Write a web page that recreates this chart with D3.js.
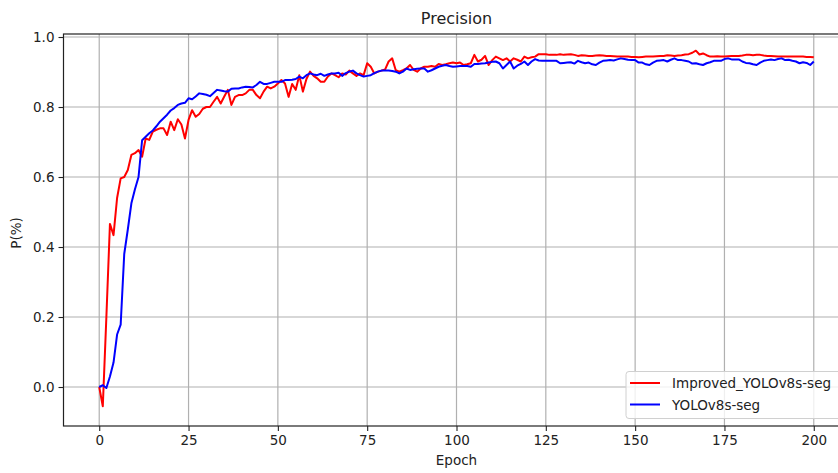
<!DOCTYPE html>
<html>
<head>
<meta charset="utf-8">
<script src="https://cdn.jsdelivr.net/npm/d3@7"></script>
<style>
  body { margin: 0; background: #fff; }
  text { font-family: "DejaVu Sans", sans-serif; fill: #222; }
</style>
</head>
<body>
<svg id="chart"></svg>
<script>
// precision per epoch
const improved = [
  0.0, -0.055, 0.2, 0.466, 0.434, 0.54, 0.596, 0.60, 0.62, 0.663,
  0.668, 0.677, 0.658, 0.71, 0.706, 0.73, 0.735, 0.739, 0.739, 0.72,
  0.758, 0.734, 0.765, 0.75, 0.71, 0.763, 0.791, 0.772, 0.78, 0.795,
  0.80, 0.80, 0.815, 0.829, 0.81, 0.83, 0.849, 0.806, 0.829, 0.834,
  0.834, 0.839, 0.849, 0.849, 0.834, 0.825, 0.844, 0.858, 0.853, 0.858,
  0.867, 0.877, 0.867, 0.829, 0.866, 0.849, 0.891, 0.844, 0.88, 0.901,
  0.889, 0.882, 0.872, 0.872, 0.887, 0.896, 0.891, 0.885, 0.896, 0.893,
  0.904, 0.896, 0.889, 0.896, 0.891, 0.925, 0.915, 0.896, 0.901, 0.904,
  0.907, 0.93, 0.939, 0.905, 0.901, 0.905, 0.91, 0.92, 0.906, 0.901,
  0.91, 0.915, 0.915, 0.917, 0.915, 0.923, 0.92, 0.922, 0.925, 0.927,
  0.925, 0.927, 0.92, 0.922, 0.925, 0.949, 0.93, 0.935, 0.946, 0.92,
  0.934, 0.944, 0.939, 0.934, 0.939, 0.93, 0.939, 0.935, 0.93, 0.944,
  0.939, 0.942, 0.944, 0.951, 0.951, 0.951, 0.949, 0.949, 0.949, 0.951,
  0.949, 0.95, 0.951, 0.949, 0.946, 0.948, 0.947, 0.946, 0.946, 0.947,
  0.948, 0.947, 0.946, 0.946, 0.945, 0.944, 0.944, 0.944, 0.944, 0.943,
  0.943, 0.942, 0.943, 0.944, 0.944, 0.944, 0.945, 0.946, 0.946, 0.948,
  0.947, 0.946, 0.947, 0.948, 0.95, 0.951, 0.955, 0.961, 0.95, 0.953,
  0.948, 0.944, 0.944, 0.945, 0.944, 0.944, 0.945, 0.946, 0.946, 0.946,
  0.947, 0.949, 0.949, 0.948, 0.949, 0.949, 0.947, 0.946, 0.946, 0.945,
  0.944, 0.944, 0.944, 0.944, 0.944, 0.944, 0.944, 0.944, 0.943, 0.943,
  0.942
];

const baseline = [
  0.0, 0.005, -0.003, 0.03, 0.07, 0.15, 0.178, 0.38, 0.45, 0.525,
  0.565, 0.60, 0.705, 0.715, 0.725, 0.733, 0.745, 0.758, 0.768, 0.778,
  0.79, 0.797, 0.806, 0.81, 0.812, 0.825, 0.822, 0.83, 0.839, 0.837,
  0.835, 0.831, 0.84, 0.849, 0.847, 0.845, 0.844, 0.852, 0.853, 0.853,
  0.856, 0.858, 0.857, 0.856, 0.863, 0.872, 0.866, 0.866, 0.869, 0.872,
  0.872, 0.872, 0.877, 0.877, 0.878, 0.88, 0.887, 0.882, 0.891, 0.896,
  0.893, 0.891, 0.895, 0.889, 0.893, 0.896, 0.896, 0.898, 0.889, 0.897,
  0.901, 0.904, 0.896, 0.891, 0.887, 0.889, 0.891, 0.897, 0.901, 0.904,
  0.904, 0.904, 0.903, 0.901, 0.896, 0.901, 0.91, 0.906, 0.908, 0.909,
  0.91, 0.91, 0.901, 0.905, 0.91, 0.915, 0.918, 0.92, 0.917, 0.915,
  0.916, 0.917, 0.917, 0.917, 0.915, 0.923, 0.923, 0.924, 0.925, 0.927,
  0.929, 0.93, 0.925, 0.91, 0.92, 0.93, 0.91, 0.918, 0.923, 0.93,
  0.92, 0.93, 0.937, 0.933, 0.932, 0.932, 0.932, 0.932, 0.932, 0.925,
  0.926, 0.927, 0.928, 0.924, 0.932, 0.928, 0.925, 0.927, 0.922, 0.92,
  0.927, 0.932, 0.933, 0.934, 0.933, 0.936, 0.939, 0.937, 0.935, 0.934,
  0.934, 0.927, 0.927, 0.922, 0.92, 0.927, 0.932, 0.933, 0.934, 0.93,
  0.935, 0.939, 0.934, 0.934, 0.932, 0.93, 0.924, 0.925, 0.922, 0.92,
  0.925, 0.928, 0.932, 0.932, 0.932, 0.937, 0.939, 0.936, 0.936, 0.936,
  0.93, 0.926, 0.925, 0.922, 0.92, 0.927, 0.932, 0.934, 0.936, 0.934,
  0.937, 0.939, 0.934, 0.935, 0.932, 0.93, 0.925, 0.928, 0.926, 0.92,
  0.93
];

const seriesNames = ["Improved_YOLOv8s-seg", "YOLOv8s-seg"];
const seriesColors = ["#ff0000", "#0000ff"];
const xTicks = [0, 25, 50, 75, 100, 125, 150, 175, 200];
const yTicks = [0.0, 0.2, 0.4, 0.6, 0.8, 1.0];

const width = 838, height = 473;
// plot box (right edge is cut off by the picture border, as in the original)
const boxL = 63.5, boxR = 849.5, boxT = 34, boxB = 426;

const svg = d3.select("#chart").attr("width", width).attr("height", height);

const x = d3.scaleLinear().domain([-10, 210]).range([boxL, boxR]);
const y = d3.scaleLinear().domain([-0.1114, 1.0086]).range([boxB, boxT]);

// grid
const grid = svg.append("g").attr("stroke", "#b0b0b0").attr("stroke-width", 1.2);
grid.selectAll(".gx").data(xTicks).join("line")
  .attr("x1", d => x(d)).attr("x2", d => x(d))
  .attr("y1", boxT).attr("y2", boxB);
grid.selectAll(".gy").data(yTicks).join("line")
  .attr("x1", boxL).attr("x2", boxR)
  .attr("y1", d => y(d)).attr("y2", d => y(d));

// lines
const line = d3.line().x((d, i) => x(i)).y(d => y(d));
const allSeries = [improved, baseline];
svg.append("g").selectAll("path")
  .data(allSeries)
  .join("path")
  .attr("fill", "none")
  .attr("stroke", (d, i) => seriesColors[i])
  .attr("stroke-width", 2)
  .attr("stroke-linejoin", "round")
  .attr("d", line);

// axes
const xAxis = svg.append("g").attr("transform", `translate(0,${boxB})`)
  .call(d3.axisBottom(x).tickValues(xTicks).tickSize(5).tickPadding(4).tickSizeOuter(0));
const yAxis = svg.append("g").attr("transform", `translate(${boxL},0)`)
  .call(d3.axisLeft(y).tickValues(yTicks).tickFormat(d3.format(".1f")).tickSize(5).tickPadding(4).tickSizeOuter(0));
[xAxis, yAxis].forEach(a => {
  a.select(".domain").remove();
  a.selectAll("line").attr("stroke", "#222").attr("stroke-width", 1.1);
  a.selectAll("text").attr("font-size", 13.5).attr("fill", "#222")
    .style("font-family", "'DejaVu Sans', sans-serif");
});

// spines
svg.append("rect")
  .attr("x", boxL).attr("y", boxT)
  .attr("width", boxR - boxL).attr("height", boxB - boxT)
  .attr("fill", "none").attr("stroke", "#222").attr("stroke-width", 1.2);

// title and labels
svg.append("text").attr("x", (boxL + boxR) / 2).attr("y", 24)
  .attr("text-anchor", "middle").attr("font-size", 16).text("Precision");
svg.append("text").attr("x", (boxL + boxR) / 2).attr("y", 465)
  .attr("text-anchor", "middle").attr("font-size", 13.5).text("Epoch");
svg.append("text").attr("transform", "translate(21,233) rotate(-90)")
  .attr("text-anchor", "middle").attr("font-size", 13.5).text("P(%)");

// legend
const lg = svg.append("g").attr("transform", "translate(626,371.5)");
lg.append("rect").attr("width", 240).attr("height", 47).attr("rx", 3)
  .attr("fill", "#fff").attr("fill-opacity", 0.8)
  .attr("stroke", "#d0d0d0").attr("stroke-width", 1);
seriesNames.forEach((name, i) => {
  const row = lg.append("g").attr("transform", `translate(0,${11.5 + i * 21.5})`);
  row.append("line").attr("x1", 4).attr("x2", 34).attr("stroke", seriesColors[i]).attr("stroke-width", 2);
  row.append("text").attr("x", 46).attr("y", 5).attr("font-size", 13.5).text(name);
});
</script>
</body>
</html>
